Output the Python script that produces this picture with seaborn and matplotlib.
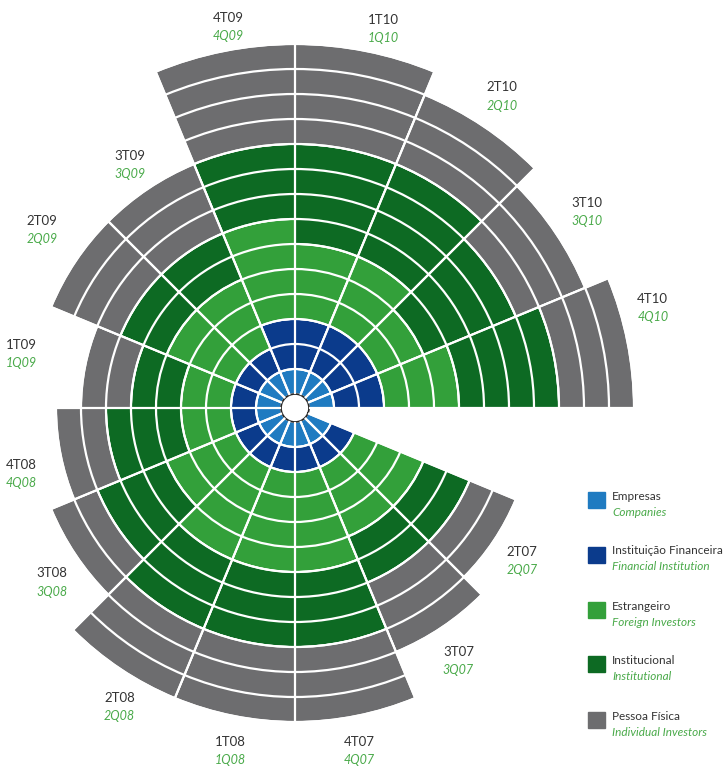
import numpy as np
import seaborn as sns
import matplotlib.pyplot as plt
from matplotlib.patches import Rectangle

# quarters, from 2T07 (clockwise) to 4T10
quarters_pt = ["2T07", "3T07", "4T07", "1T08", "2T08", "3T08", "4T08", "1T09",
               "2T09", "3T09", "4T09", "1T10", "2T10", "3T10", "4T10"]
quarters_en = ["2Q07", "3Q07", "4Q07", "1Q08", "2Q08", "3Q08", "4Q08", "1Q09",
               "2Q09", "3Q09", "4Q09", "1Q10", "2Q10", "3Q10", "4Q10"]

# stacked values per investor type (ring units, read from the rings)
empresas = [1, 1, 1, 1, 1, 1, 1, 1, 1, 1, 1, 1, 1, 1, 1]
inst_financeira = [1, 1, 1, 1, 1, 1, 1, 1, 1, 1, 2, 2, 2, 2, 2]
estrangeiro = [3, 3, 4, 4, 4, 3, 2, 2, 3, 3, 4, 3, 3, 2, 3]
institucional = [2, 2, 3, 3, 3, 3, 3, 2, 2, 2, 3, 4, 4, 4, 4]
pessoa_fisica = [2, 3, 3, 3, 3, 2, 2, 2, 3, 3, 4, 4, 3, 3, 3]

series_pt = ["Empresas", "Instituição Financeira", "Estrangeiro", "Institucional", "Pessoa Física"]
series_en = ["Companies", "Financial Institution", "Foreign Investors", "Institutional", "Individual Investors"]
colors = ["#1f7bc1", "#0b3b8c", "#33a03a", "#0d6a23", "#6d6d6f"]

# label placement (screen angle in degrees, radius in ring units)
label_ang = [326.0, 302.8, 280.6, 259.3, 239.6, 215.7, 193.6, 168.8,
             144.9, 124.1, 100.0, 76.9, 56.4, 33.8, 15.6]
label_rad = [10.4, 11.5, 13.4, 13.4, 13.3, 11.4, 10.7, 10.6,
             11.8, 11.2, 14.9, 15.0, 14.4, 13.5, 14.3]

sns.set_theme(style="white")
plt.rcParams['font.family'] = ['Lato', 'DejaVu Sans']

W, H = 727, 769
fig = plt.figure(figsize=(W / 100, H / 100), dpi=100)

# polar geometry: centre of rose, px per ring, hole radius
cx, cy = 295, 408
unit = 25.0
hole = 14.0
rmax = 14.6
R = (rmax + hole / unit) * unit
ax = fig.add_axes([(cx - R) / W, (H - cy - R) / H, 2 * R / W, 2 * R / H], projection="polar")

ax.set_theta_offset(np.deg2rad(337.5))
ax.set_theta_direction(-1)
ax.set_rorigin(-hole / unit)
ax.set_ylim(0, rmax)

step = 2 * np.pi / 16
theta = step / 2 + step * np.arange(len(quarters_pt))

bottom = np.zeros(len(quarters_pt))
for vals, col in zip([empresas, inst_financeira, estrangeiro, institucional, pessoa_fisica], colors):
    ax.bar(theta, vals, width=step, bottom=bottom, color=col,
           edgecolor="white", linewidth=1.4, align="center")
    bottom += np.array(vals)

ax.set_xticks(step * np.arange(16))
ax.set_yticks(np.arange(1, 15))
ax.set_xticklabels([])
ax.set_yticklabels([])
ax.grid(True, color="white", linewidth=1.6)
ax.set_axisbelow(False)
ax.spines["polar"].set_visible(False)
ax.set_facecolor("white")

# quarter labels
for pt, en, a, r in zip(quarters_pt, quarters_en, label_ang, label_rad):
    t = np.deg2rad(337.5 - a)
    ax.annotate(pt, (t, r), xytext=(0, 6.5), textcoords="offset points",
                ha="center", va="center", fontsize=9.5, color="#333333",
                annotation_clip=False)
    ax.annotate(en, (t, r), xytext=(0, -6.5), textcoords="offset points",
                ha="center", va="center", fontsize=9, color="#4aaa4a",
                style="italic", annotation_clip=False)

# legend
leg_y = [500, 555, 610, 664, 720]
for y, col, pt, en in zip(leg_y, colors, series_pt, series_en):
    fig.patches.append(Rectangle((588 / W, (H - y - 8) / H), 17 / W, 16 / H,
                                 transform=fig.transFigure, color=col))
    fig.text(612 / W, (H - y + 4) / H, pt, fontsize=8.5, color="#333333",
             ha="left", va="center")
    fig.text(612 / W, (H - y - 12) / H, en, fontsize=8.5, color="#4aaa4a",
             style="italic", ha="left", va="center")

fig.savefig("out.png", dpi=100, facecolor="white")
